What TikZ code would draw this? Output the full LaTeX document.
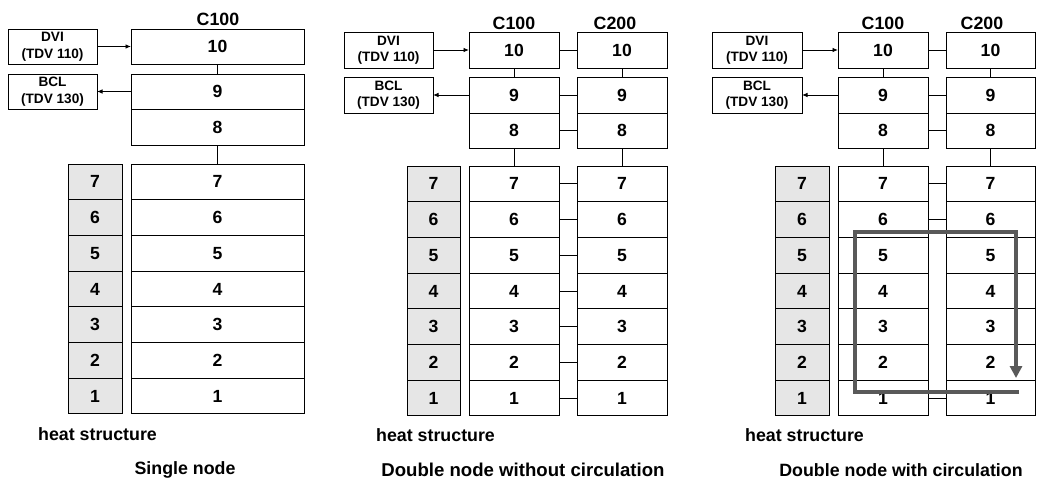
\documentclass[tikz,border=0pt]{standalone}
\usepackage{fontspec}
\setmainfont{Liberation Sans}
\usetikzlibrary{arrows.meta}
\definecolor{hsgray}{HTML}{E6E6E6}
\definecolor{circgray}{HTML}{595959}
\newcommand\mkcell[7][]{%
  \pgfmathsetmacro\cw{#5-#3}\pgfmathsetmacro\ch{#6-#4}%
  \node[cell,#1,anchor=north west,minimum width=\cw pt,minimum height=\ch pt] (#2) at (#3,#4) {#7};}
\begin{document}
\begin{tikzpicture}[x=1pt,y=-1pt,
  cell/.style={draw,line width=0.9pt,inner sep=0pt,outer sep=0pt,fill=white,
    font=\fontsize{17.6}{20}\selectfont\bfseries},
  heat/.style={fill=hsgray},
  small/.style={align=center,font=\fontsize{13.6}{16.5}\selectfont\bfseries},
  lbl/.style={inner sep=0pt,font=\fontsize{17.8}{20}\selectfont\bfseries},
  conn/.style={line width=0.9pt},
  arr/.style={line width=0.9pt,-{Latex[length=5.5pt,width=4.5pt]}},
  circ/.style={line width=4pt,draw=circgray,-{Triangle[length=12pt,width=12pt]}}
]
\useasboundingbox (0,0) rectangle (1038,485);

% ---------------- Panel 1: single node
\node[lbl] (p1l1) at (218,19) {C100};
\mkcell[small]{p1dvi}{8}{29}{97}{64}{DVI\\(TDV 110)}
\mkcell[small]{p1bcl}{8}{74}{97}{109}{BCL\\(TDV 130)}
\mkcell{p1a10}{131}{29}{304}{64}{10}
\mkcell{p1a9}{131}{74}{304}{109}{9}
\mkcell{p1a8}{131}{109}{304}{145}{8}
\foreach \n [count=\i from 0] in {7,6,5,4,3,2,1} {
  \pgfmathsetmacro\yt{164+35.7*\i}
  \pgfmathsetmacro\yb{164+35.7*(\i+1)}
  \mkcell[heat]{p1h\n}{68}{\yt}{122}{\yb}{\n}
  \mkcell{p1a\n}{131}{\yt}{304}{\yb}{\n}
}
\draw[conn] (p1a10.south) -- (p1a9.north);
\draw[conn] (p1a8.south) -- (p1a7.north);
\draw[arr] (p1dvi.east) -- (p1a10.west);
\draw[arr] (p1a9.west) -- (p1bcl.east);
\node[lbl,anchor=west] (p1hs) at (38,434) {heat structure};
\node[lbl] (p1cap) at (185,470) {Single node};

% ---------------- Panel 2: double node without circulation
\node[lbl] (p2l1) at (514,23) {C100};
\node[lbl] (p2l2) at (615,23) {C200};
\mkcell[small]{p2dvi}{344}{32}{433}{68}{DVI\\(TDV 110)}
\mkcell[small]{p2bcl}{344}{77}{433}{113}{BCL\\(TDV 130)}
\mkcell{p2a10}{469}{32}{559}{68}{10}
\mkcell{p2a9}{469}{77}{559}{113}{9}
\mkcell{p2a8}{469}{113}{559}{148}{8}
\mkcell{p2b10}{577}{32}{667}{68}{10}
\mkcell{p2b9}{577}{77}{667}{113}{9}
\mkcell{p2b8}{577}{113}{667}{148}{8}
\foreach \n [count=\i from 0] in {7,6,5,4,3,2,1} {
  \pgfmathsetmacro\yt{166+35.7*\i}
  \pgfmathsetmacro\yb{166+35.7*(\i+1)}
  \mkcell[heat]{p2h\n}{407}{\yt}{460}{\yb}{\n}
  \mkcell{p2a\n}{469}{\yt}{559}{\yb}{\n}
  \mkcell{p2b\n}{577}{\yt}{667}{\yb}{\n}
}
\foreach \n in {10,9,8,7,6,5,4,3,2,1} {
  \draw[conn] (p2a\n.east) -- (p2b\n.west);
}
\draw[conn] (p2a10.south) -- (p2a9.north);
\draw[conn] (p2a8.south) -- (p2a7.north);
\draw[conn] (p2b10.south) -- (p2b9.north);
\draw[conn] (p2b8.south) -- (p2b7.north);
\draw[arr] (p2dvi.east) -- (p2a10.west);
\draw[arr] (p2a9.west) -- (p2bcl.east);
\node[lbl,anchor=west] (p2hs) at (376,435) {heat structure};
\node[lbl,font=\fontsize{18.6}{20}\selectfont\bfseries] (p2cap) at (523,470) {Double node without circulation};

% ---------------- Panel 3: double node with circulation
\node[lbl] (p3l1) at (883,23) {C100};
\node[lbl] (p3l2) at (982,23) {C200};
\mkcell[small]{p3dvi}{712}{32}{802}{68}{DVI\\(TDV 110)}
\mkcell[small]{p3bcl}{712}{77}{802}{113}{BCL\\(TDV 130)}
\mkcell{p3a10}{838}{32}{928}{68}{10}
\mkcell{p3a9}{838}{77}{928}{113}{9}
\mkcell{p3a8}{838}{113}{928}{148}{8}
\mkcell{p3b10}{946}{32}{1035}{68}{10}
\mkcell{p3b9}{946}{77}{1035}{113}{9}
\mkcell{p3b8}{946}{113}{1035}{148}{8}
\foreach \n [count=\i from 0] in {7,6,5,4,3,2,1} {
  \pgfmathsetmacro\yt{166+35.7*\i}
  \pgfmathsetmacro\yb{166+35.7*(\i+1)}
  \mkcell[heat]{p3h\n}{775}{\yt}{829}{\yb}{\n}
  \mkcell{p3a\n}{838}{\yt}{928}{\yb}{\n}
  \mkcell{p3b\n}{946}{\yt}{1035}{\yb}{\n}
}
\foreach \n in {10,9,8,7,6,1} {
  \draw[conn] (p3a\n.east) -- (p3b\n.west);
}
\draw[conn] (p3a10.south) -- (p3a9.north);
\draw[conn] (p3a8.south) -- (p3a7.north);
\draw[conn] (p3b10.south) -- (p3b9.north);
\draw[conn] (p3b8.south) -- (p3b7.north);
\draw[arr] (p3dvi.east) -- (p3a10.west);
\draw[arr] (p3a9.west) -- (p3bcl.east);
\node[lbl,anchor=west] (p3hs) at (745,435) {heat structure};
\node[lbl] (p3cap) at (901,470) {Double node with circulation};

% circulation loop
\coordinate (cs) at (1019,392);
\coordinate (cbl) at (855,392);
\coordinate (ctl) at (855,232);
\coordinate (ctr) at (1016,232);
\coordinate (ce) at (1016,378);
\draw[circ] (cs) -- (cbl) -- (ctl) -- (ctr) -- (ce);
\end{tikzpicture}
\end{document}
